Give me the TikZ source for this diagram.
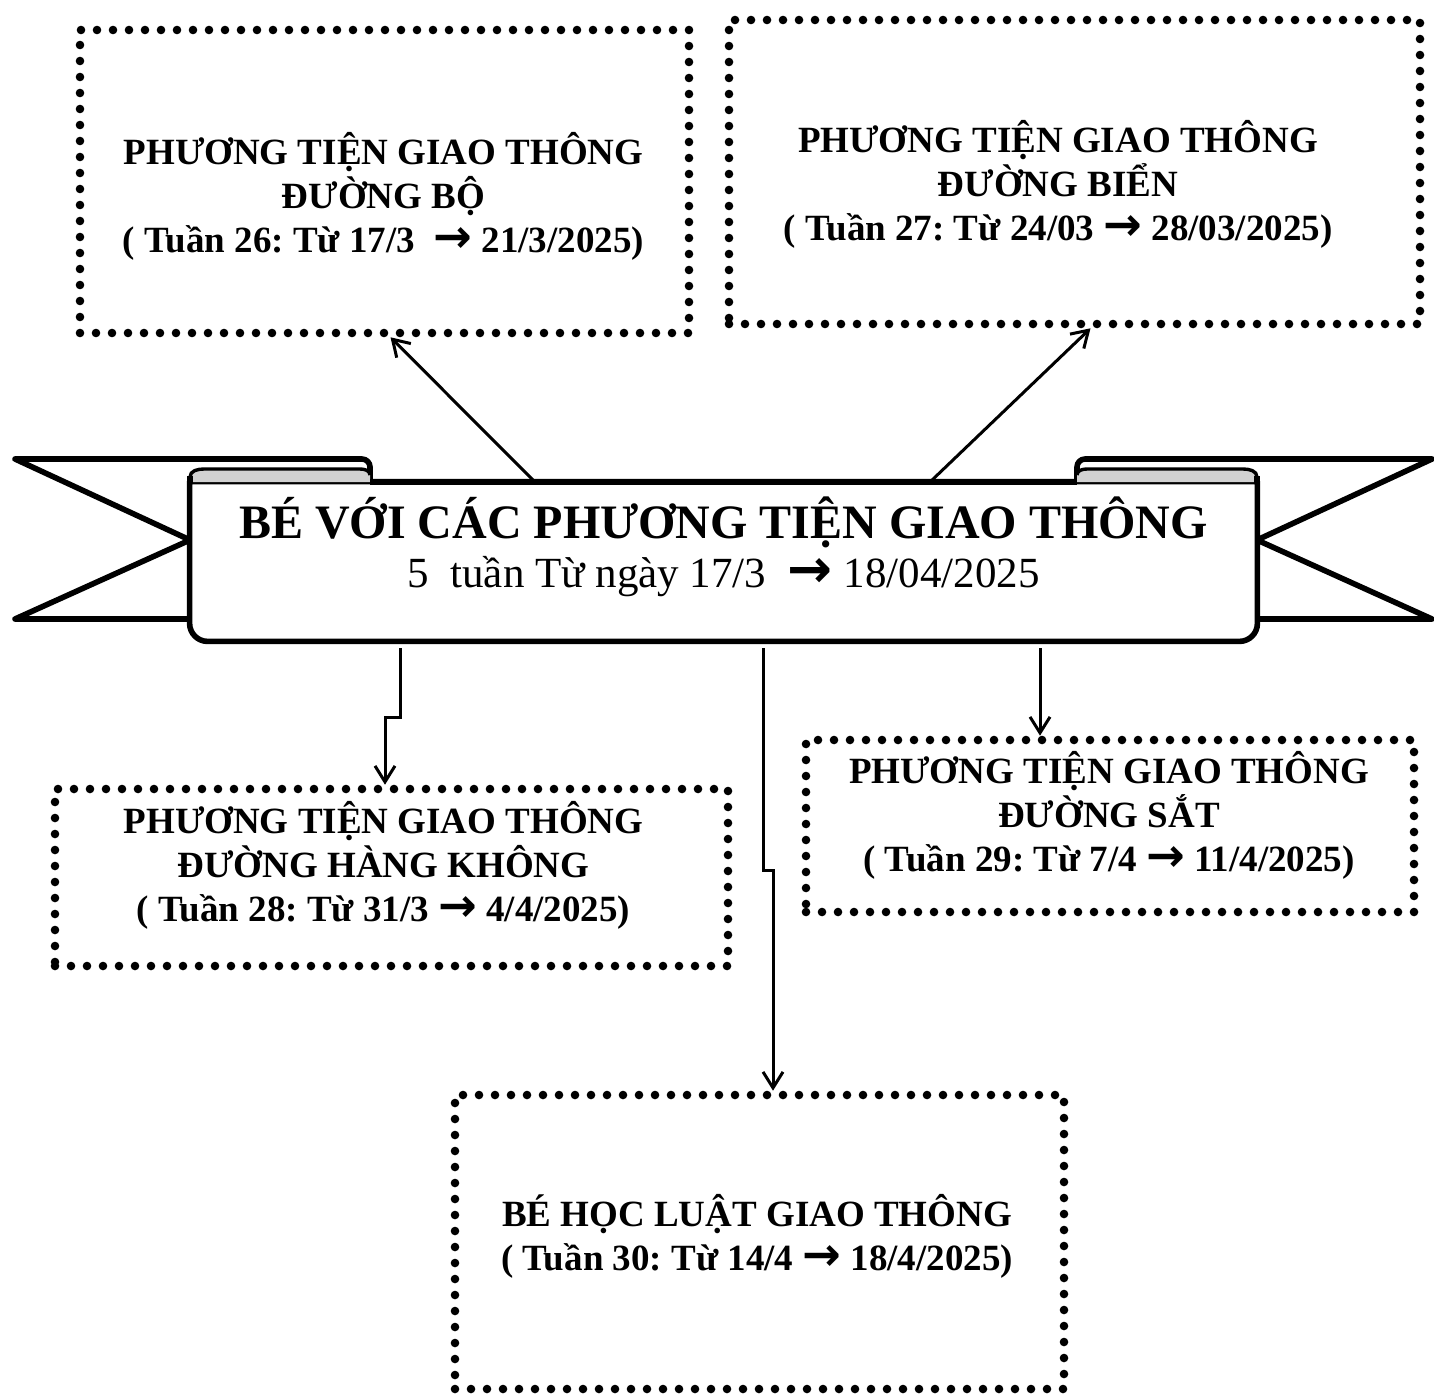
\documentclass[tikz,border=0pt]{standalone}
\usepackage{fontspec}
\setmainfont{Liberation Serif}
\newfontfamily\arrowfont{DejaVu Sans}
\newcommand{\arr}{{\arrowfont\bfseries\scalebox{1.25}{→}}}
\frenchspacing
\usetikzlibrary{positioning}
\usetikzlibrary{arrows.meta}
\tikzset{
    weekbox/.style = {rectangle, draw=black, line width=4.3pt, dash pattern=on 0pt off 8pt, line cap=round, inner sep=0pt},
    weektext/.style = {align=center, font=\bfseries\fontsize{18.5}{22}\selectfont},
    ribbon/.style = {line width=2.8pt, draw=black, line join=round},
    rollcurve/.style = {line width=1.7pt, draw=black},
    edgen/.style = {-{Straight Barb[length=8pt,width=10pt]}, line width=1.5pt},
}

\begin{document}
\begin{tikzpicture}[x=0.5pt, y=-0.5pt]
  \useasboundingbox (0,0) rectangle (1434,1397);

  % ribbon tails
  \draw[ribbon] (190,619) -- (15,619) -- (190,540) -- (15,459) -- (362,459) to[out=0,in=90] (370,467) -- (370,482);
  \draw[ribbon] (1257,619) -- (1432,619) -- (1257,540) -- (1432,459) -- (1085,459) to[out=180,in=90] (1077,467) -- (1077,482);

  % ribbon body
  \node[minimum width=533.5pt, minimum height=79.5pt, inner sep=0pt] (banner) at (723.5,561.5) {};
  \filldraw[ribbon, fill=white] (banner.north west) {[rounded corners=9pt] -- (banner.south west) -- (banner.south east)} -- (banner.north east) -- cycle;

  % rolls
  \fill[gray!35] (190,482) -- (190,476) to[out=90,in=180] (204,469) -- (360,469) to[out=0,in=90] (370,475) -- (370,482) -- cycle;
  \draw[rollcurve] (190,477) to[out=90,in=180] (204,469) -- (360,469) to[out=0,in=90] (370,475);
  \draw[ribbon] (190,483) -- (190,476);
  \fill[gray!35] (1257,482) -- (1257,476) to[out=90,in=0] (1243,469) -- (1087,469) to[out=180,in=90] (1077,475) -- (1077,482) -- cycle;
  \draw[rollcurve] (1257,477) to[out=90,in=0] (1243,469) -- (1087,469) to[out=180,in=90] (1077,475);
  \draw[ribbon] (1257,483) -- (1257,476);
  \draw[ribbon] (370,482) -- (1077,482);

  \node[inner sep=0pt, font=\bfseries\fontsize{24}{28}\selectfont] (title) at (723.5,522) {BÉ VỚI CÁC PHƯƠNG TIỆN GIAO THÔNG};
  \node[inner sep=0pt, font=\fontsize{21.5}{26}\selectfont] (sub) at (723.5,577) {5\ \ tuần Từ ngày 17/3\ \ \arr\ 18/04/2025};

  % week boxes
  \node[weekbox, minimum width=304.5pt, minimum height=151.5pt] (b1) at (384.5,181.5) {};
  \node[weekbox, minimum width=345.5pt, minimum height=152pt] (b2) at (1074.5,172) {};
  \node[weekbox, minimum width=336.5pt, minimum height=88.5pt] (b3) at (391.5,877.5) {};
  \node[weekbox, minimum width=304pt, minimum height=86pt] (b4) at (1110,826) {};
  \node[weekbox, minimum width=304.5pt, minimum height=147pt] (b5) at (759.5,1242) {};

  \node[weektext] (t1) at (383.5,196) {PHƯƠNG TIỆN GIAO THÔNG\\ĐƯỜNG BỘ\\( Tuần 26: Từ 17/3\ \ \arr\ 21/3/2025)};
  \node[weektext] (t2) at (1058,184) {PHƯƠNG TIỆN GIAO THÔNG\\ĐƯỜNG BIỂN\\( Tuần 27: Từ 24/03 \arr\ 28/03/2025)};
  \node[weektext] (t3) at (383.5,865) {PHƯƠNG TIỆN GIAO THÔNG\\ĐƯỜNG HÀNG KHÔNG\\( Tuần 28: Từ 31/3 \arr\ 4/4/2025)};
  \node[weektext] (t4) at (1109,815) {PHƯƠNG TIỆN GIAO THÔNG\\ĐƯỜNG SẮT\\( Tuần 29: Từ 7/4 \arr\ 11/4/2025)};
  \node[weektext] (t5) at (757,1236) {BÉ HỌC LUẬT GIAO THÔNG\\( Tuần 30: Từ 14/4 \arr\ 18/4/2025)};

  % connectors
  \coordinate (s1) at (535,482);
  \coordinate (s2) at (930,482);
  \coordinate (s3) at (400,648);
  \coordinate (k3) at (385,717);
  \coordinate (s4) at (763,648);
  \coordinate (k4) at (773,870);
  \coordinate (s5) at (1040,648);
  \draw[edgen] (s1) -- ([xshift=3pt]b1.south);
  \draw[edgen] (s2) -- ([xshift=8pt]b2.south);
  \draw[edgen] (s3) |- (k3) -- (k3 |- b3.north);
  \draw[edgen] (s4) |- (k4) -- (k4 |- b5.north);
  \draw[edgen] (s5) -- (s5 |- b4.north);

\end{tikzpicture}
\end{document}
